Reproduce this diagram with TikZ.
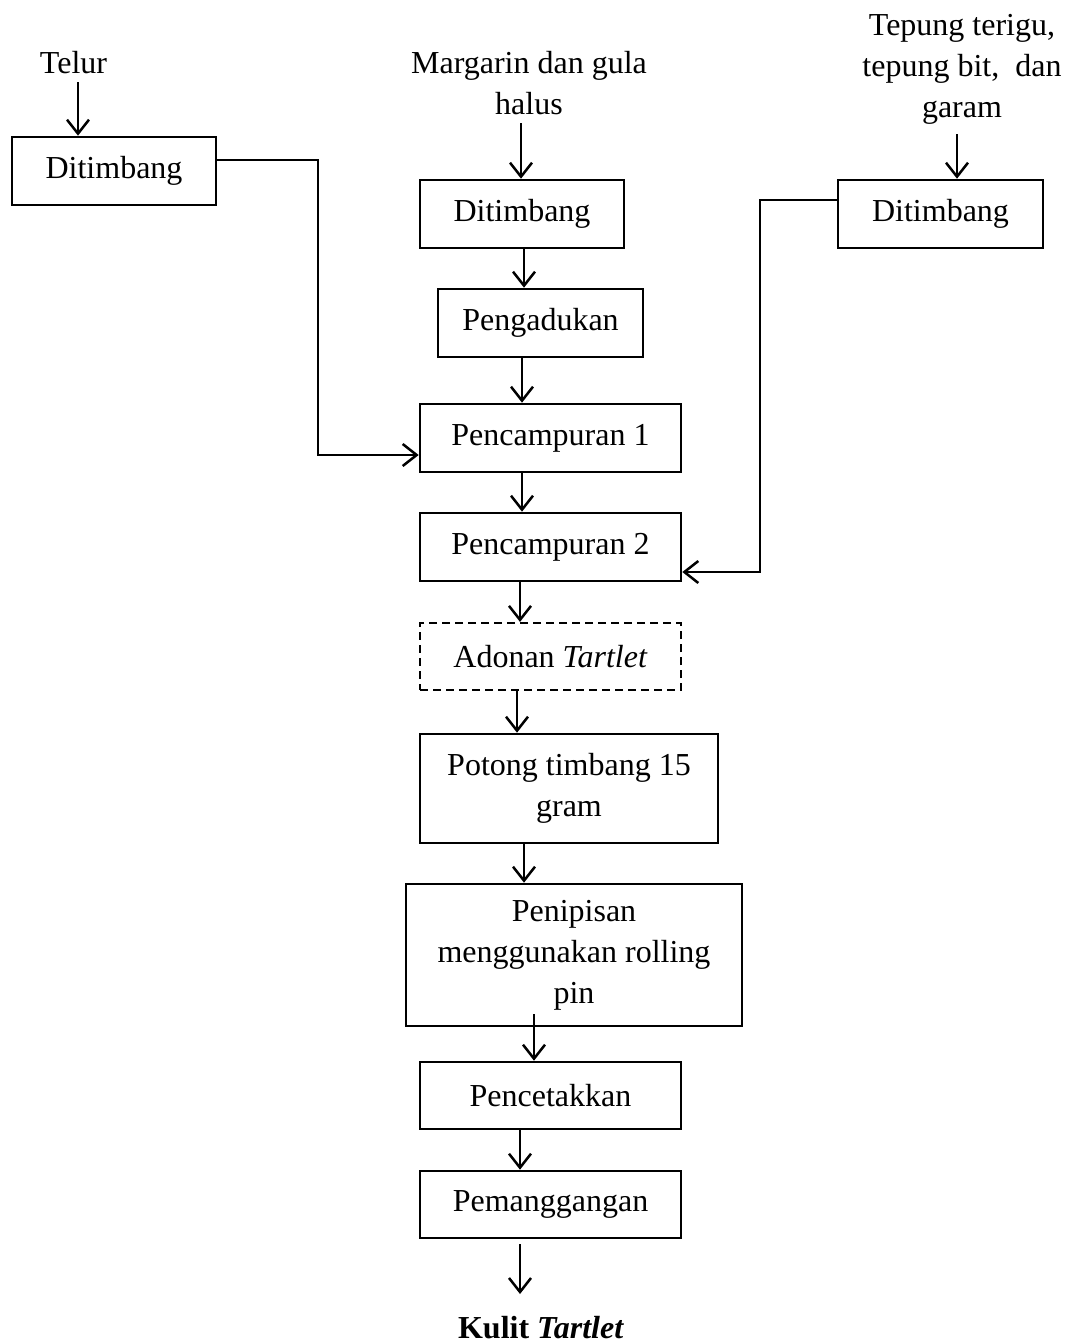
\documentclass[tikz,border=0pt]{standalone}
\usepackage{fontspec}
\setmainfont{Liberation Serif}
\usetikzlibrary{arrows.meta}
\begin{document}
\begin{tikzpicture}[x=1pt,y=-1pt,
  txt/.style={inner sep=0pt,align=center,font=\fontsize{32}{41}\selectfont},
  box/.style={txt,draw,line width=2.6pt,minimum height=68pt},
  dbox/.style={box,line width=2.2pt,dash pattern=on 8pt off 5pt},
  arr/.style={line width=2.5pt,-{Straight Barb[length=14pt,width=22pt]}}]
\useasboundingbox (0,0) rectangle (1069,1344);

% input labels
\node[txt,anchor=base] (telur) at (73.5,73) {Telur};
\node[txt] (marg) at (529,83) {Margarin dan gula\\halus};
\node[txt] (tep) at (962,69) {Tepung terigu,\\tepung bit,\ \ dan\\garam};

% boxes
\node[box,minimum width=204pt] (d1) at (114,171) {Ditimbang};
\node[box,minimum width=204pt] (d2) at (522,214) {Ditimbang};
\node[box,minimum width=205pt] (d3) at (940.5,214) {Ditimbang};
\node[box,minimum width=205pt] (p1) at (540.5,323) {Pengadukan};
\node[box,minimum width=261pt] (c1) at (550.5,438) {Pencampuran 1};
\node[box,minimum width=261pt] (c2) at (550.5,547) {Pencampuran 2};
\node[dbox,minimum width=261pt,minimum height=67pt] (ad) at (550.5,656.5) {Adonan \textit{Tartlet}};
\node[box,minimum width=298pt,minimum height=109pt] (pt) at (569,788.5) {Potong timbang 15\\gram};
\node[box,minimum width=336pt,minimum height=142pt] (pn) at (574,955) {Penipisan\\menggunakan rolling\\pin};
\node[box,minimum width=261pt,minimum height=67pt] (pc) at (550.5,1095.5) {Pencetakkan};
\node[box,minimum width=261pt,minimum height=67pt] (pm) at (550.5,1204.5) {Pemanggangan};
\node[txt,anchor=base] (kulit) at (541,1338) {\textbf{Kulit \textit{Tartlet}}};

% helper coordinates
\coordinate (s1) at (78,82);
\coordinate (s2) at (521,123);
\coordinate (s3) at (957,134);
\coordinate (a524) at (524,0);
\coordinate (a522) at (522,0);
\coordinate (a520) at (520,0);
\coordinate (a517) at (517,0);
\coordinate (s9) at (534,1014);
\coordinate (e) at (520,1294);
\coordinate (ly) at (0,160);
\coordinate (lx) at (318,0);
\coordinate (ry) at (0,455);
\coordinate (ry2) at (0,200);
\coordinate (rx) at (760,0);
\coordinate (ry3) at (0,572);

% arrows from inputs
\draw[arr] (s1) -- (d1.north -| s1);
\draw[arr] (s2) -- (d2.north -| s2);
\draw[arr] (s3) -- (d3.north -| s3);

% main chain
\draw[arr] (d2.south -| a524) -- (p1.north -| a524);
\draw[arr] (p1.south -| a522) -- (c1.north -| a522);
\draw[arr] (c1.south -| a522) -- (c2.north -| a522);
\draw[arr] (c2.south -| a520) -- (ad.north -| a520);
\draw[arr] (ad.south -| a517) -- (pt.north -| a517);
\draw[arr] (pt.south -| a524) -- (pn.north -| a524);
\draw[arr] (s9) -- (pc.north -| s9);
\draw[arr] (pc.south -| a520) -- (pm.north -| a520);
\draw[arr] (pm.south -| e) ++(0,5) -- (e);

% side connectors
\draw[arr] (d1.east |- ly) -| (lx |- ry) -- (c1.west |- ry);
\draw[arr] (d3.west |- ry2) -| (rx |- ry3) -- (c2.east |- ry3);
\end{tikzpicture}
\end{document}
